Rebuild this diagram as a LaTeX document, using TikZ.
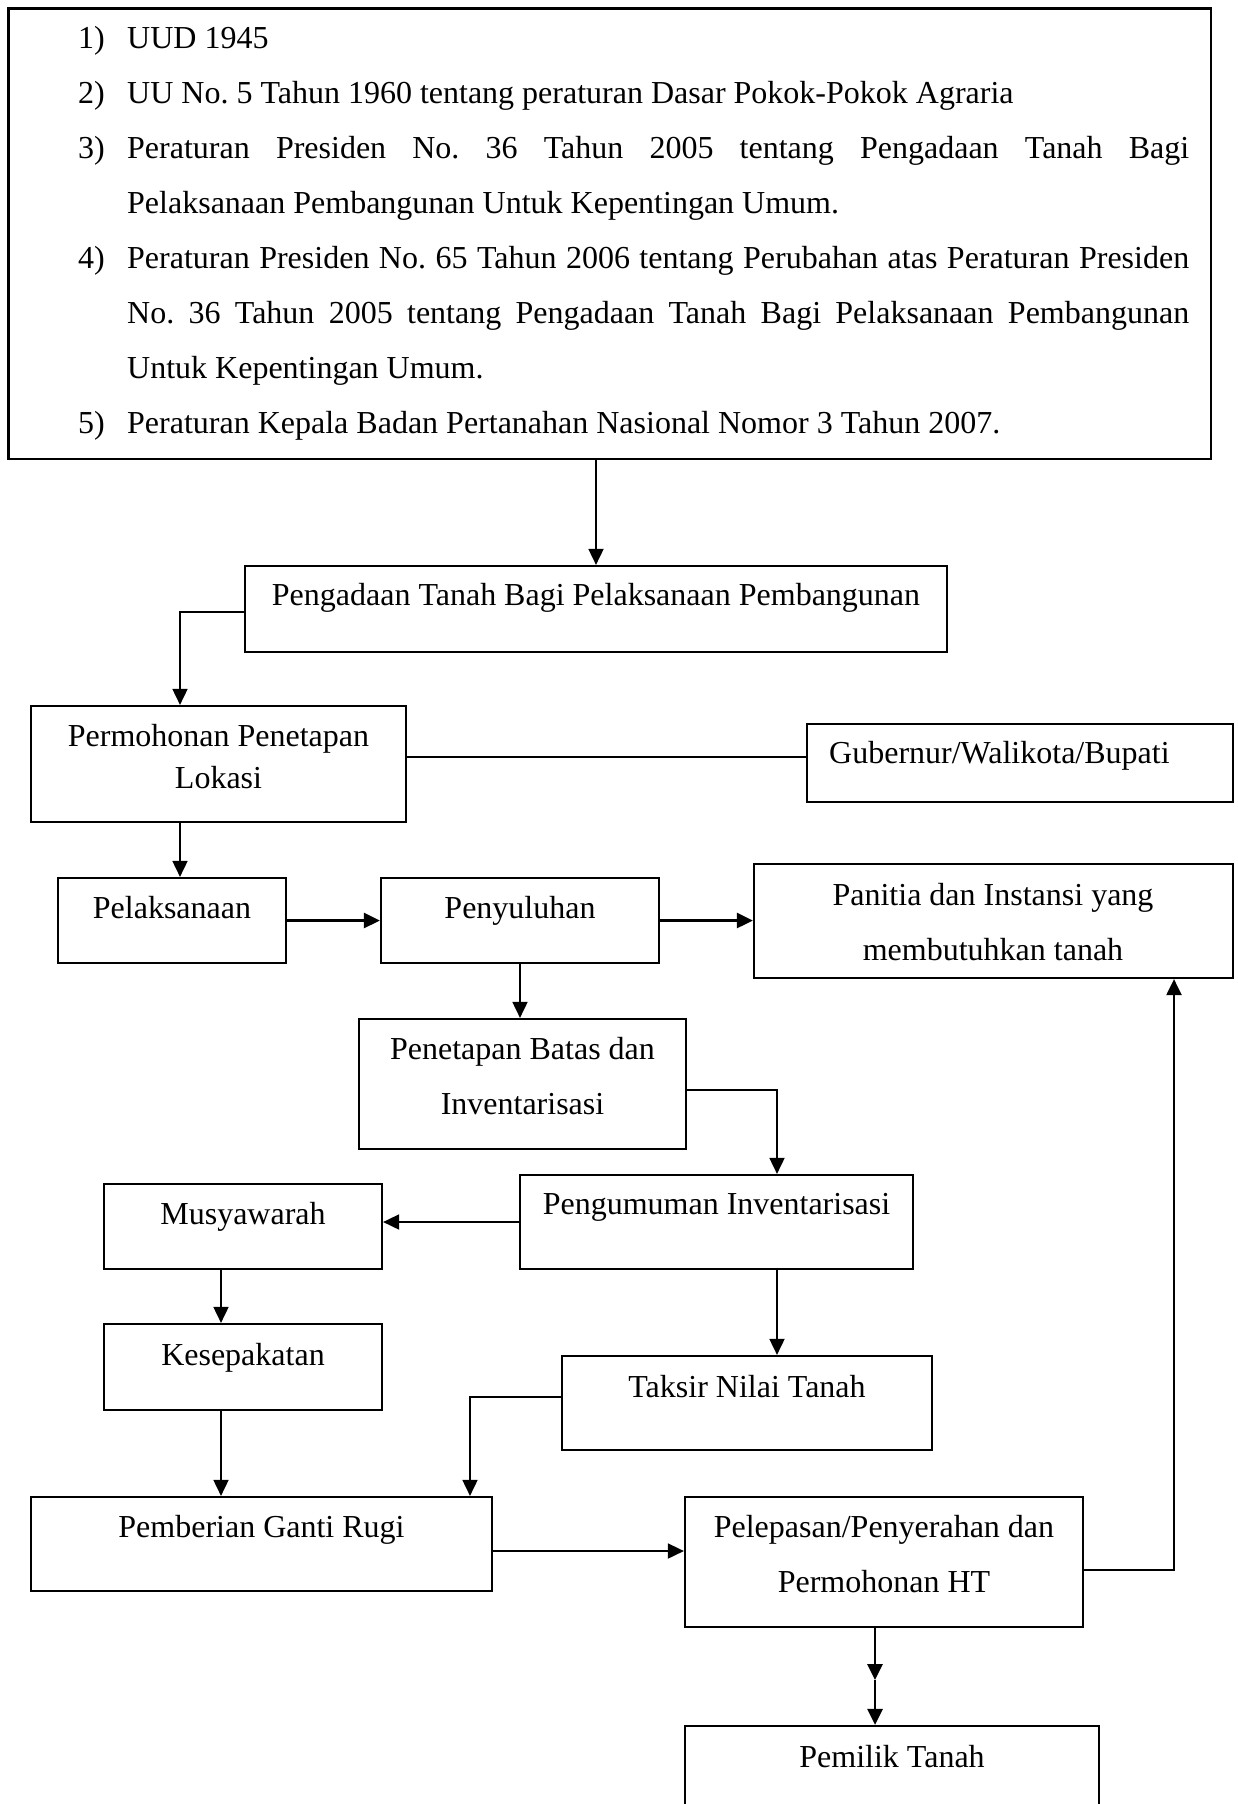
\documentclass[tikz,border=0pt]{standalone}
\usepackage{fontspec}
\setmainfont{Liberation Serif}
\usetikzlibrary{arrows.meta,fit}
\frenchspacing
\begin{document}
\begin{tikzpicture}[x=1pt,y=-1pt,
 box/.style={draw, line width=2.2pt, inner sep=0pt},
 lbl/.style={font=\fontsize{32}{38}\selectfont\frenchspacing, inner sep=0pt, anchor=base},
 lblw/.style={lbl, anchor=base west},
 conn/.style={line width=1.8pt, -{Triangle[length=16pt,width=15pt]}},
 connthick/.style={line width=2.8pt, -{Triangle[length=16pt,width=15pt]}},
 linkline/.style={line width=1.8pt}]
\useasboundingbox (0,0) rectangle (1237,1804);
\fill[white] (0,0) rectangle (1237,1804);
\clip (0,0) rectangle (1237,1804);

% boxes
\node[box, fit={(8.5,8.5) (1211,459)}] (top) {};
\node[box, fit={(245,566) (947,652)}] (peng) {};
\node[box, fit={(31,706) (406,822)}] (perm) {};
\node[box, fit={(807,724) (1233,802)}] (gub) {};
\node[box, fit={(58,878) (286,963)}] (pel) {};
\node[box, fit={(381,878) (659,963)}] (peny) {};
\node[box, fit={(754,864) (1233,978)}] (pan) {};
\node[box, fit={(359,1019) (686,1149)}] (pen) {};
\node[box, fit={(520,1175) (913,1269)}] (pgm) {};
\node[box, fit={(104,1184) (382,1269)}] (mus) {};
\node[box, fit={(104,1324) (382,1410)}] (kes) {};
\node[box, fit={(562,1356) (932,1450)}] (tak) {};
\node[box, fit={(31,1497) (492,1591)}] (pem) {};
\node[box, fit={(685,1497) (1083,1627)}] (lep) {};
\node[box, fit={(685,1726) (1099,1840)}] (mil) {};

% list in top box
\node[lblw] (n1) at (78,48) {1)};
\node[lblw] (t1) at (127,48) {UUD 1945};
\node[lblw] (n2) at (78,103) {2)};
\node[lblw] (t2) at (127,103) {UU No. 5 Tahun 1960 tentang peraturan Dasar Pokok-Pokok Agraria};
\node[lblw] (n3) at (78,158) {3)};
\node[lblw] (t3) at (127,158) {\makebox[1062pt][s]{Peraturan Presiden No. 36 Tahun 2005 tentang Pengadaan Tanah Bagi}};
\node[lblw] (t3b) at (127,213) {Pelaksanaan Pembangunan Untuk Kepentingan Umum.};
\node[lblw] (n4) at (78,268) {4)};
\node[lblw] (t4) at (127,268) {\makebox[1062pt][s]{Peraturan Presiden No. 65 Tahun 2006 tentang Perubahan atas Peraturan Presiden}};
\node[lblw] (t4b) at (127,323) {\makebox[1062pt][s]{No. 36 Tahun 2005 tentang Pengadaan Tanah Bagi Pelaksanaan Pembangunan}};
\node[lblw] (t4c) at (127,378) {Untuk Kepentingan Umum.};
\node[lblw] (n5) at (78,433) {5)};
\node[lblw] (t5) at (127,433) {Peraturan Kepala Badan Pertanahan Nasional Nomor 3 Tahun 2007.};

% box labels
\node[lbl] (pengT) at (596,605) {Pengadaan Tanah Bagi Pelaksanaan Pembangunan};
\node[lbl] (permT1) at (218.5,746) {Permohonan Penetapan};
\node[lbl] (permT2) at (218.5,788) {Lokasi};
\node[lblw] (gubT) at (829,763) {Gubernur/Walikota/Bupati};
\node[lbl] (pelT) at (172,918) {Pelaksanaan};
\node[lbl] (penyT) at (520,918) {Penyuluhan};
\node[lbl] (panT1) at (993,905) {Panitia dan Instansi yang};
\node[lbl] (panT2) at (993,960) {membutuhkan tanah};
\node[lbl] (penT1) at (522.5,1059) {Penetapan Batas dan};
\node[lbl] (penT2) at (522.5,1114) {Inventarisasi};
\node[lbl] (pgmT) at (716.5,1214) {Pengumuman Inventarisasi};
\node[lbl] (musT) at (243,1224) {Musyawarah};
\node[lbl] (kesT) at (243,1365) {Kesepakatan};
\node[lbl] (takT) at (747,1397) {Taksir Nilai Tanah};
\node[lbl] (pemT) at (261.5,1537) {Pemberian Ganti Rugi};
\node[lbl] (lepT1) at (884,1537) {Pelepasan/Penyerahan dan};
\node[lbl] (lepT2) at (884,1592) {Permohonan HT};
\node[lbl] (milT) at (892,1767) {Pemilik Tanah};

% connectors
\coordinate (k1) at (180,612);
\coordinate (k2) at (0,757);
\coordinate (k3) at (777,1090);
\coordinate (k4) at (221,0);
\coordinate (k5) at (470,1397);
\coordinate (k6) at (0,1551);
\coordinate (k7) at (1174,1570);
\coordinate (k8) at (875,1680);

\draw[conn] (peng.north |- top.south) -- (peng.north);
\draw[conn] (peng.west |- k1) -- (k1) -- (k1 |- perm.north);
\draw[linkline] (perm.east |- k2) -- (gub.west |- k2);
\draw[conn] (k1 |- perm.south) -- (k1 |- pel.north);
\draw[connthick] (pel.east) -- (peny.west);
\draw[connthick] (peny.east) -- (pan.west |- peny.east);
\draw[conn] (peny.south) -- (peny.south |- pen.north);
\draw[conn] (pen.east |- k3) -- (k3) -- (k3 |- pgm.north);
\draw[conn] (pgm.west) -- (mus.east |- pgm.west);
\draw[conn] (mus.south -| k4) -- (kes.north -| k4);
\draw[conn] (kes.south -| k4) -- (pem.north -| k4);
\draw[conn] (pgm.south -| k3) -- (tak.north -| k3);
\draw[conn] (tak.west |- k5) -- (k5) -- (k5 |- pem.north);
\draw[conn] (pem.east |- k6) -- (lep.west |- k6);
\draw[conn, line width=2.2pt] (lep.east |- k7) -- (k7) -- (k7 |- pan.south);
\draw[connthick] (lep.south -| k8) -- (k8);
\draw[connthick] (k8) -- (k8 |- mil.north);
\end{tikzpicture}
\end{document}
